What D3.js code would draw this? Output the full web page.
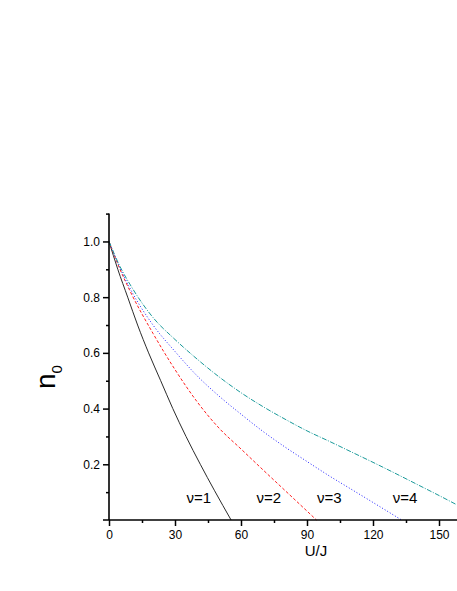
<!DOCTYPE html>
<html>
<head>
<meta charset="utf-8">
<script src="https://cdn.jsdelivr.net/npm/d3@7"></script>
<style>
  body { margin: 0; background: #fff; }
  svg { display: block; font-family: "Liberation Sans", Arial, sans-serif; }
</style>
</head>
<body>
<script>
// values: [U/J, n0]
const nu1 = [[0, 1], [4, 0.9], [8.5, 0.8], [13, 0.7], [18, 0.6], [23.5, 0.5], [29, 0.4], [35, 0.3], [41.5, 0.2], [48, 0.105], [55.5, 0]];
const nu2 = [[0, 1], [5, 0.9], [10, 0.815], [20, 0.67], [30, 0.54], [40, 0.425], [50, 0.33], [60, 0.255], [70, 0.18], [80, 0.106], [90, 0.032], [94.3, 0]];
const nu3 = [[0, 1], [5, 0.905], [10, 0.825], [20, 0.7], [30, 0.605], [40, 0.518], [50, 0.445], [60, 0.38], [70, 0.318], [80, 0.262], [90, 0.21], [100, 0.159], [110, 0.111], [120, 0.063], [133, 0]];
const nu4 = [[0, 1], [5, 0.91], [10, 0.84], [20, 0.727], [30, 0.648], [40, 0.578], [50, 0.514], [60, 0.457], [70, 0.407], [80, 0.362], [90, 0.32], [100, 0.283], [110, 0.245], [120, 0.207], [130, 0.168], [140, 0.128], [150, 0.088], [158, 0.055]];
const labels = ["ν=1", "ν=2", "ν=3", "ν=4"];
const labelU = [35.2, 67, 94.5, 129];
const xTicks = [0, 30, 60, 90, 120, 150];
const xMinor = [15, 45, 75, 105, 135];
const yTicks = [0.2, 0.4, 0.6, 0.8, 1.0];
const yMinor = [0.1, 0.3, 0.5, 0.7, 0.9, 1.1];

const width = 457, height = 591;
const x = d3.scaleLinear().domain([0, 188]).range([109, 522.6]);
const y = d3.scaleLinear().domain([0, 1.1]).range([520, 213.6]);

const svg = d3.select("body").append("svg")
  .attr("width", width)
  .attr("height", height);

//curves
const series = [
  { data: nu1, color: "#2b2b2b", dash: null },
  { data: nu2, color: "#ff2020", dash: "3,2" },
  { data: nu3, color: "#2020ff", dash: "1,2" },
  { data: nu4, color: "#1a9a9a", dash: "5,1.5,1,1.5" }
];
const line = d3.line()
  .x(d => x(d[0]))
  .y(d => y(d[1]))
  .curve(d3.curveMonotoneX);

svg.append("g")
  .selectAll("path")
  .data(series)
  .enter()
  .append("path")
  .attr("d", d => line(d.data))
  .attr("fill", "none")
  .attr("stroke", d => d.color)
  .attr("stroke-width", 1)
  .attr("stroke-dasharray", d => d.dash);

//x axis
const xAxis = svg.append("g")
  .attr("transform", "translate(0," + y(0) + ")")
  .call(d3.axisBottom(x).tickValues(xTicks).tickSize(6).tickPadding(4).tickFormat(d3.format("d")));
xAxis.append("g")
  .call(d3.axisBottom(x).tickValues(xMinor).tickSize(3).tickFormat(""));

//y axis
const yAxis = svg.append("g")
  .attr("transform", "translate(" + x(0) + ",0)")
  .call(d3.axisLeft(y).tickValues(yTicks).tickSize(6).tickPadding(3).tickFormat(d3.format(".1f")));
yAxis.append("g")
  .call(d3.axisLeft(y).tickValues(yMinor).tickSize(3).tickFormat(""));
yAxis.append("line")
  .attr("x1", -6).attr("x2", 0)
  .attr("y1", y(0)).attr("y2", y(0))
  .attr("stroke", "#000").attr("stroke-width", 1.5);

// replace the domain paths (no outer ticks)
svg.selectAll(".domain").remove();
xAxis.append("line")
  .attr("x1", x(0)).attr("x2", x(188))
  .attr("y1", 0).attr("y2", 0)
  .attr("stroke", "#000").attr("stroke-width", 1.6);
yAxis.append("line")
  .attr("x1", 0).attr("x2", 0)
  .attr("y1", y(0)).attr("y2", y(1.1))
  .attr("stroke", "#000").attr("stroke-width", 1.6);

svg.selectAll(".tick line").attr("stroke-width", 1.5);
svg.selectAll(".tick text")
  .attr("font-size", 12)
  .attr("font-family", "Liberation Sans, Arial, sans-serif")
  .attr("fill", "#000");

//curve labels
svg.append("g")
  .selectAll("text")
  .data(labels)
  .enter()
  .append("text")
  .attr("x", (d, i) => x(labelU[i]))
  .attr("y", 503)
  .attr("font-size", 15)
  .text(d => d);

//axis titles
svg.append("text")
  .attr("x", 316)
  .attr("y", 556)
  .attr("text-anchor", "middle")
  .attr("font-size", 15)
  .text("U/J");

const yTitle = svg.append("text")
  .attr("transform", "translate(55,389) rotate(-90)")
  .attr("font-size", 28);
yTitle.append("tspan").text("n");
yTitle.append("tspan").attr("font-size", 15).attr("dy", 7).text("0");
</script>
</body>
</html>
